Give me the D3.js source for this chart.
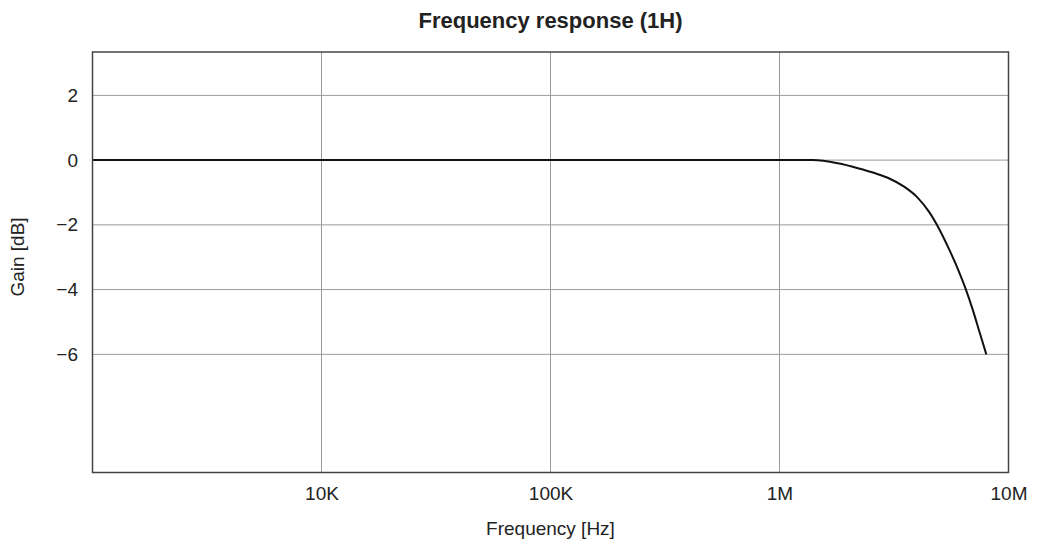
<!DOCTYPE html>
<html><head><meta charset="utf-8">
<script src="https://cdn.jsdelivr.net/npm/d3@7"></script>
<style>body{margin:0;background:#fff}svg{display:block;font-family:"Liberation Sans",Arial,sans-serif}</style>
</head><body><svg id="c" width="1037" height="546"></svg>
<script>
const freqs = [1000, 10000, 100000, 1000000, 1400000, 1800000, 2200000, 2600000, 3000000, 3500000, 4000000, 4500000, 5000000, 5500000, 6000000, 6500000, 7000000, 7500000, 8000000];
const gains = [0, 0, 0, 0, 0, -0.1, -0.25, -0.4, -0.56, -0.82, -1.15, -1.6, -2.15, -2.75, -3.35, -3.98, -4.65, -5.35, -6.0];
const xTicks = [10000, 100000, 1000000, 10000000];
const xTickLabels = ["10K", "100K", "1M", "10M"];
const yTicks = [2, 0, -2, -4, -6];
const yTickLabels = ["2", "0", "\u22122", "\u22124", "\u22126"];

const svg = d3.select("#c");
const L = 92.5, R = 1008.5, T = 52, B = 472.5;
const x = d3.scaleLog().domain([1000, 10000000]).range([L, R]);
const y = d3.scaleLinear().domain([-9.65, 3.34]).range([B, T]);

const g = svg.append("g");
g.selectAll(".vg").data(xTicks.slice(0, 3)).join("line")
  .attr("x1", d => x(d)).attr("x2", d => x(d)).attr("y1", T).attr("y2", B)
  .attr("stroke", "#9a9a9a").attr("stroke-width", 1);
g.selectAll(".hg").data(yTicks).join("line")
  .attr("x1", L).attr("x2", R).attr("y1", d => y(d)).attr("y2", d => y(d))
  .attr("stroke", "#9a9a9a").attr("stroke-width", 1);

const xAxis = d3.axisBottom(x).tickValues(xTicks).tickFormat((d, i) => xTickLabels[i]).tickSize(0).tickPadding(14);
const ax = svg.append("g").attr("transform", `translate(0,${B})`).call(xAxis);
ax.select(".domain").remove();
ax.selectAll("text").attr("font-size", 19).attr("fill", "#222").attr("font-family", "Liberation Sans, Arial, sans-serif");

const yAxis = d3.axisLeft(y).tickValues(yTicks).tickFormat((d, i) => yTickLabels[i]).tickSize(0).tickPadding(14.5);
const ay = svg.append("g").attr("transform", `translate(${L},0)`).call(yAxis);
ay.select(".domain").remove();
ay.selectAll("text").attr("font-size", 19).attr("fill", "#222").attr("font-family", "Liberation Sans, Arial, sans-serif");

const data = freqs.map((f, i) => [f, gains[i]]);
svg.append("path").datum(data)
  .attr("d", d3.line().x(d => x(d[0])).y(d => y(d[1])).curve(d3.curveMonotoneX))
  .attr("fill", "none").attr("stroke", "#111").attr("stroke-width", 2);

svg.append("rect").attr("x", L).attr("y", T).attr("width", R - L).attr("height", B - T)
  .attr("fill", "none").attr("stroke", "#444").attr("stroke-width", 1.5);

svg.append("text").attr("x", (L + R) / 2).attr("y", 28).attr("text-anchor", "middle")
  .attr("font-size", 22).attr("font-weight", "bold").attr("fill", "#222").text("Frequency response (1H)");
svg.append("text").attr("x", (L + R) / 2).attr("y", 535).attr("text-anchor", "middle")
  .attr("font-size", 19).attr("fill", "#222").text("Frequency [Hz]");
svg.append("text").attr("transform", `translate(24,257) rotate(-90)`).attr("text-anchor", "middle")
  .attr("font-size", 19).attr("fill", "#222").text("Gain [dB]");
</script></body></html>
